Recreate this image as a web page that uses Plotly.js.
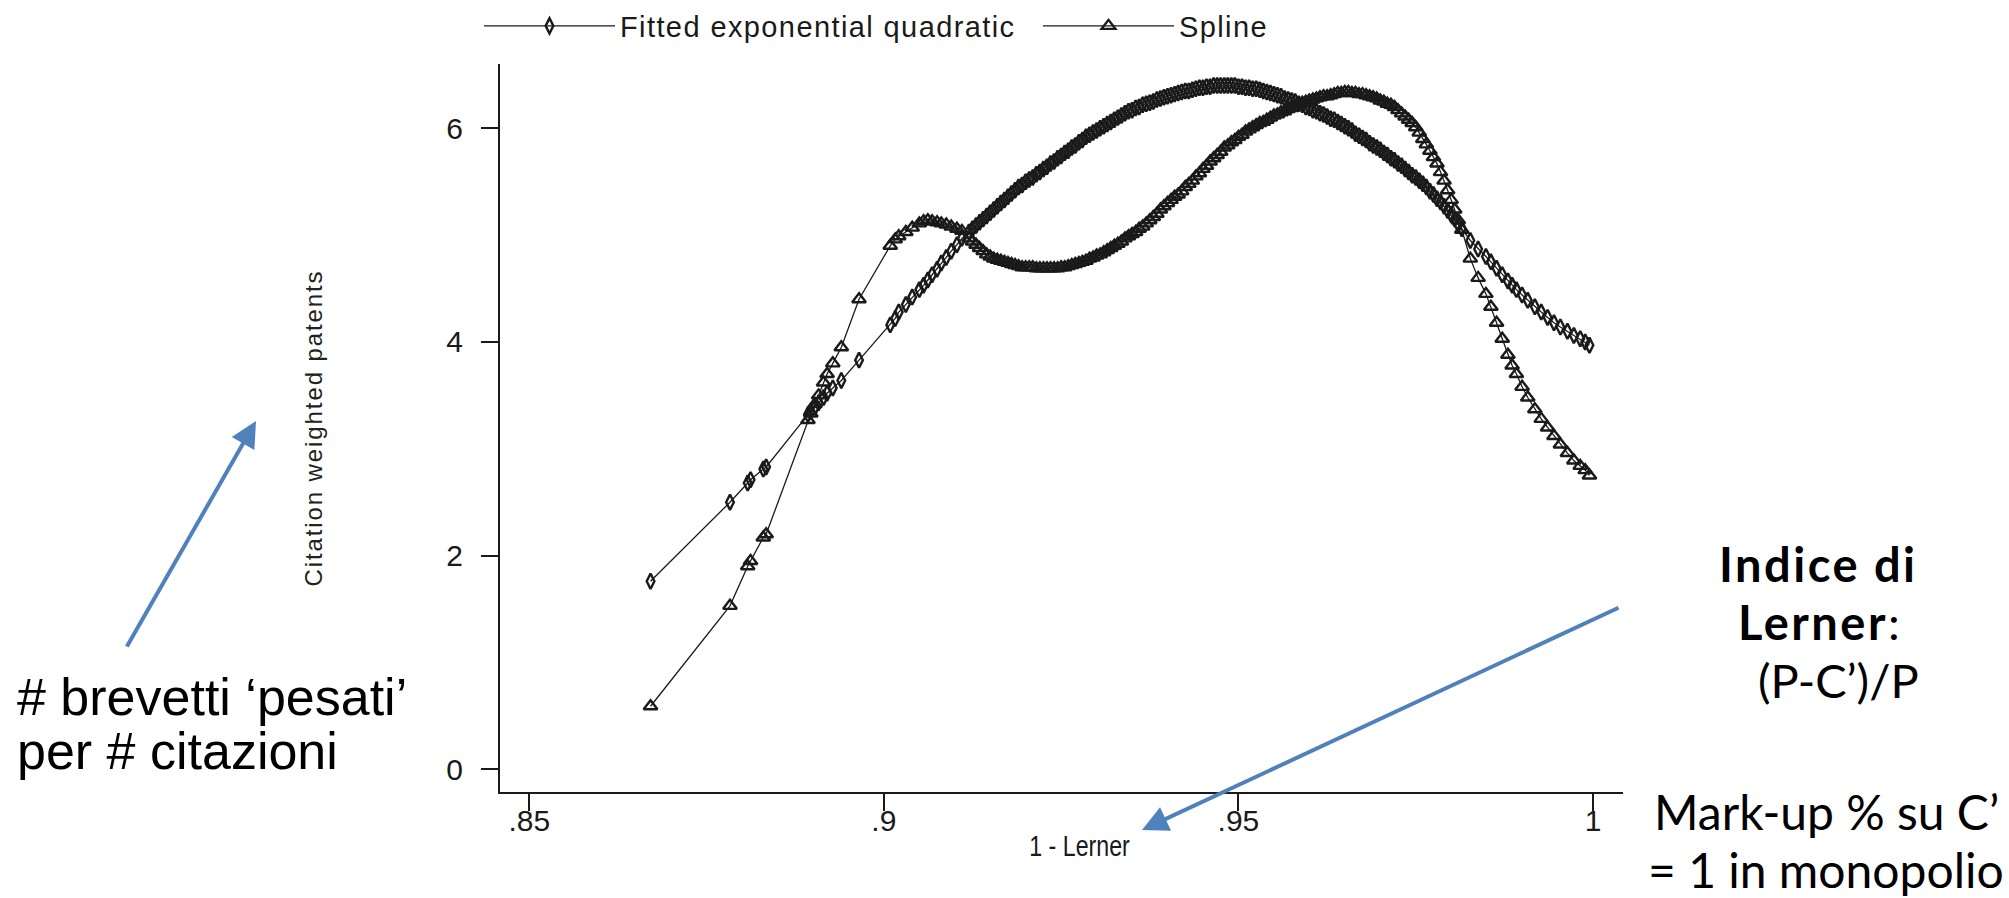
<!DOCTYPE html>
<html><head><meta charset="utf-8">
<script src="https://cdn.plot.ly/plotly-3.0.1.min.js"></script>
<style>
html,body{margin:0;padding:0;background:#fff;}
#chart{width:2009px;height:898px;}
.legendtext{letter-spacing:1.4px;}
.ytitle{letter-spacing:1.9px;}
.xtitle{transform-box:fill-box;transform-origin:50% 50%;scale:0.8 1;translate:18px 0;}
</style></head><body><div id="chart"></div><script>
// ---- data ----
const xLerner = [
 0.8671,0.8783,0.8808,0.8812,0.8830,0.8834,0.8893,0.8897,0.8903,0.8908,0.8915,0.8920,0.8928,0.8940,0.8965,
 0.9009,0.9016,0.9021,0.9031,0.9040,0.9050,0.9056,0.9062,0.9068,0.9075,0.9081,0.9088,0.9095,0.9103,0.9110,
 0.9120,0.9125,0.9130,0.9135,0.9140,0.9145,0.9150,0.9155,0.9160,0.9165,
 0.9170,0.9175,0.9180,0.9185,0.9190,0.9195,0.9200,0.9205,0.9210,0.9215,
 0.9220,0.9225,0.9230,0.9235,0.9240,0.9245,0.9250,0.9255,0.9260,0.9265,
 0.9270,0.9275,0.9280,0.9285,0.9290,0.9295,0.9300,0.9305,0.9310,0.9315,
 0.9320,0.9325,0.9330,0.9335,0.9340,0.9345,0.9350,0.9355,0.9360,0.9365,
 0.9370,0.9375,0.9380,0.9385,0.9390,0.9395,0.9400,0.9405,0.9410,0.9415,
 0.9420,0.9425,0.9430,0.9435,0.9440,0.9445,0.9450,0.9455,0.9460,0.9465,
 0.9470,0.9475,0.9480,0.9485,0.9490,0.9495,0.9500,0.9505,0.9510,0.9515,
 0.9520,0.9525,0.9530,0.9535,0.9540,0.9545,0.9550,0.9555,0.9560,0.9565,
 0.9570,0.9575,0.9580,0.9585,0.9590,0.9595,0.9600,0.9605,0.9610,0.9615,
 0.9620,0.9625,0.9630,0.9635,0.9640,0.9645,0.9650,0.9655,0.9660,0.9665,
 0.9670,0.9675,0.9680,0.9685,0.9690,0.9695,0.9700,0.9705,0.9710,0.9715,
 0.9720,0.9725,0.9730,0.9735,0.9740,0.9745,0.9750,0.9755,0.9760,0.9765,
 0.9770,0.9775,0.9780,0.9785,0.9790,0.9795,0.9800,0.9805,0.9810,0.9815,
 0.9827,0.9838,0.9849,0.9856,0.9864,0.9872,0.9880,0.9886,0.9892,0.9900,0.9908,
 0.9918,0.9927,0.9936,0.9945,0.9954,0.9964,0.9973,0.9982,0.9989,0.9995
];
const fittedQuad = [
 1.76,2.50,2.68,2.71,2.81,2.83,3.32,3.35,3.39,3.43,3.48,3.52,3.57,3.64,3.83,
 4.16,4.22,4.28,4.35,4.42,4.49,4.53,4.58,4.63,4.68,4.74,4.79,4.85,4.91,4.97,
 5.03,5.06,5.09,5.12,5.15,5.18,5.21,5.24,5.27,5.30,
 5.33,5.36,5.39,5.42,5.45,5.47,5.50,5.52,5.54,5.57,
 5.59,5.62,5.64,5.67,5.69,5.72,5.74,5.77,5.79,5.82,
 5.84,5.87,5.89,5.92,5.94,5.96,5.98,6.00,6.02,6.04,
 6.06,6.08,6.10,6.12,6.14,6.16,6.17,6.19,6.20,6.22,
 6.23,6.24,6.25,6.27,6.28,6.29,6.30,6.31,6.32,6.33,
 6.34,6.35,6.35,6.36,6.37,6.38,6.38,6.39,6.39,6.40,
 6.40,6.40,6.40,6.40,6.40,6.40,6.39,6.39,6.38,6.38,
 6.37,6.37,6.36,6.35,6.34,6.33,6.32,6.31,6.30,6.28,
 6.27,6.26,6.25,6.23,6.22,6.20,6.19,6.17,6.16,6.14,
 6.13,6.11,6.09,6.08,6.06,6.04,6.02,6.00,5.98,5.95,
 5.93,5.91,5.89,5.86,5.84,5.82,5.80,5.77,5.75,5.72,
 5.70,5.67,5.65,5.62,5.59,5.56,5.54,5.51,5.48,5.45,
 5.41,5.38,5.34,5.31,5.27,5.23,5.19,5.15,5.10,5.06,
 4.95,4.87,4.80,4.75,4.69,4.63,4.57,4.53,4.49,4.44,4.39,
 4.33,4.28,4.23,4.18,4.14,4.10,4.06,4.03,4.00,3.97
];
const splineFit = [
 0.59,1.53,1.90,1.95,2.17,2.20,3.27,3.33,3.42,3.50,3.62,3.70,3.80,3.95,4.40,
 4.90,4.96,4.99,5.03,5.07,5.11,5.13,5.14,5.13,5.12,5.11,5.10,5.08,5.06,5.04,
 4.97,4.94,4.91,4.88,4.85,4.82,4.80,4.78,4.77,4.76,
 4.75,4.74,4.73,4.72,4.71,4.70,4.70,4.70,4.70,4.69,
 4.69,4.69,4.69,4.69,4.69,4.69,4.70,4.70,4.71,4.72,
 4.73,4.74,4.75,4.76,4.78,4.79,4.81,4.82,4.84,4.86,
 4.88,4.90,4.92,4.94,4.97,4.99,5.01,5.03,5.06,5.08,
 5.11,5.14,5.17,5.20,5.24,5.27,5.30,5.33,5.36,5.38,
 5.41,5.45,5.48,5.51,5.55,5.58,5.62,5.65,5.69,5.72,
 5.75,5.78,5.82,5.84,5.87,5.89,5.92,5.94,5.97,5.99,
 6.01,6.03,6.05,6.06,6.08,6.10,6.12,6.13,6.15,6.16,
 6.18,6.19,6.21,6.22,6.24,6.25,6.26,6.27,6.28,6.29,
 6.30,6.30,6.31,6.32,6.33,6.33,6.34,6.34,6.33,6.33,
 6.32,6.32,6.31,6.30,6.29,6.28,6.26,6.25,6.23,6.22,
 6.20,6.17,6.14,6.11,6.08,6.05,6.01,5.96,5.90,5.85,
 5.79,5.73,5.67,5.59,5.51,5.42,5.33,5.24,5.14,5.05,
 4.78,4.60,4.45,4.33,4.18,4.03,3.88,3.78,3.70,3.58,3.48,
 3.37,3.28,3.20,3.12,3.04,2.96,2.89,2.84,2.80,2.75
];
const seriesNames = ['Fitted exponential quadratic', 'Spline'];
const xTickVals = [0.85, 0.9, 0.95, 1];
const xTickText = ['.85', '.9', '.95', '1'];
const yTickVals = [0, 2, 4, 6];
const xTitle = '1 - Lerner';
const yTitle = 'Citation weighted patents';

// ---- layout geometry (pixels) ----
const L = 500, R = 1623, T = 64, B = 792;
const px = v => (v - L) / (R - L);
const py = v => (B - v) / (B - T);

const SANS = '"Liberation Sans", Arial, sans-serif';
const HUMAN = 'Lato, "Open Sans", sans-serif';
const INK = '#1a1a1a';
const BLUE = '#4F81BD';

const traces = [
  {x: xLerner, y: fittedQuad, name: seriesNames[0], type: 'scatter', mode: 'lines+markers',
   line: {color: INK, width: 1.3},
   marker: {symbol: 'diamond-tall-open', size: 11, color: INK, line: {width: 2.4, color: INK}}},
  {x: xLerner, y: splineFit, name: seriesNames[1], type: 'scatter', mode: 'lines+markers',
   line: {color: INK, width: 1.3},
   marker: {symbol: 'triangle-up-open', size: 12, color: INK, line: {width: 2.4, color: INK}}}
];

const ann = [];
function txt(t, x, y, font, anchor) {
  ann.push({text: t, xref: 'paper', yref: 'paper', x: px(x), y: py(y), xanchor: anchor || 'center',
            yanchor: 'middle', showarrow: false, font: font});
}
function arrow(hx, hy, tx, ty) {
  ann.push({text: '', xref: 'paper', yref: 'paper', x: px(hx), y: py(hy), ax: tx - hx, ay: ty - hy,
            showarrow: true, arrowhead: 2, arrowsize: 1.3, arrowwidth: 4, arrowcolor: BLUE, standoff: 0});
}
const leftFont = {family: SANS, size: 52, color: '#000'};
txt('# brevetti ‘pesati’', 15, 697, leftFont, 'left');
txt('per # citazioni', 15, 751, leftFont, 'left');
const rFont = {family: HUMAN, size: 47, color: '#000'};
const rFontB = {family: HUMAN, size: 47, color: '#000', weight: 'bold'};
txt('<span style="letter-spacing:2.5px"><b>Indice di</b></span>', 1818, 564, rFontB);
txt('<span style="letter-spacing:2.5px"><b>Lerner</b></span><span style="font-weight:normal">:</span>', 1819, 622, rFontB);
txt('(P-C’)/P', 1838, 680, rFont);
txt('Mark-up % su C’', 1826, 812, {family: HUMAN, size: 48, color: '#000'});
txt('= 1 in monopolio', 1826, 869, {family: HUMAN, size: 48, color: '#000'});
arrow(256, 421, 126, 648);
arrow(1142, 830, 1620, 607);

const layout = {
  width: 2009, height: 898,
  paper_bgcolor: '#fff', plot_bgcolor: '#fff',
  margin: {l: L, r: 2009 - R, t: T, b: 898 - B, pad: 0, autoexpand: false},
  showlegend: true,
  legend: {orientation: 'h', x: px(479), xanchor: 'left', y: py(26), yanchor: 'middle',
           font: {family: SANS, size: 29, color: INK}, itemwidth: 131,
           entrywidth: 413, entrywidthmode: 'pixels', bgcolor: 'rgba(0,0,0,0)', borderwidth: 0},
  xaxis: {range: [0.84587, 1.00423], tickvals: xTickVals, ticktext: xTickText,
          ticks: 'outside', ticklen: 17, tickwidth: 2, tickcolor: INK,
          showline: true, linewidth: 2, linecolor: INK, showgrid: false, zeroline: false,
          tickfont: {family: SANS, size: 30, color: INK}, ticklabelstandoff: -16,
          title: {text: xTitle, font: {family: SANS, size: 29, color: INK}, standoff: 0}},
  yaxis: {range: [-0.2126, 6.602], tickvals: yTickVals,
          ticks: 'outside', ticklen: 17, tickwidth: 2, tickcolor: INK,
          showline: true, linewidth: 2, linecolor: INK, showgrid: false, zeroline: false,
          tickfont: {family: SANS, size: 30, color: INK}, ticklabelstandoff: 12,
          title: {text: yTitle, font: {family: SANS, size: 24, color: '#222'}, standoff: 117}},
  annotations: ann
};
Plotly.newPlot('chart', traces, layout, {displayModeBar: false, staticPlot: true});
</script></body></html>
